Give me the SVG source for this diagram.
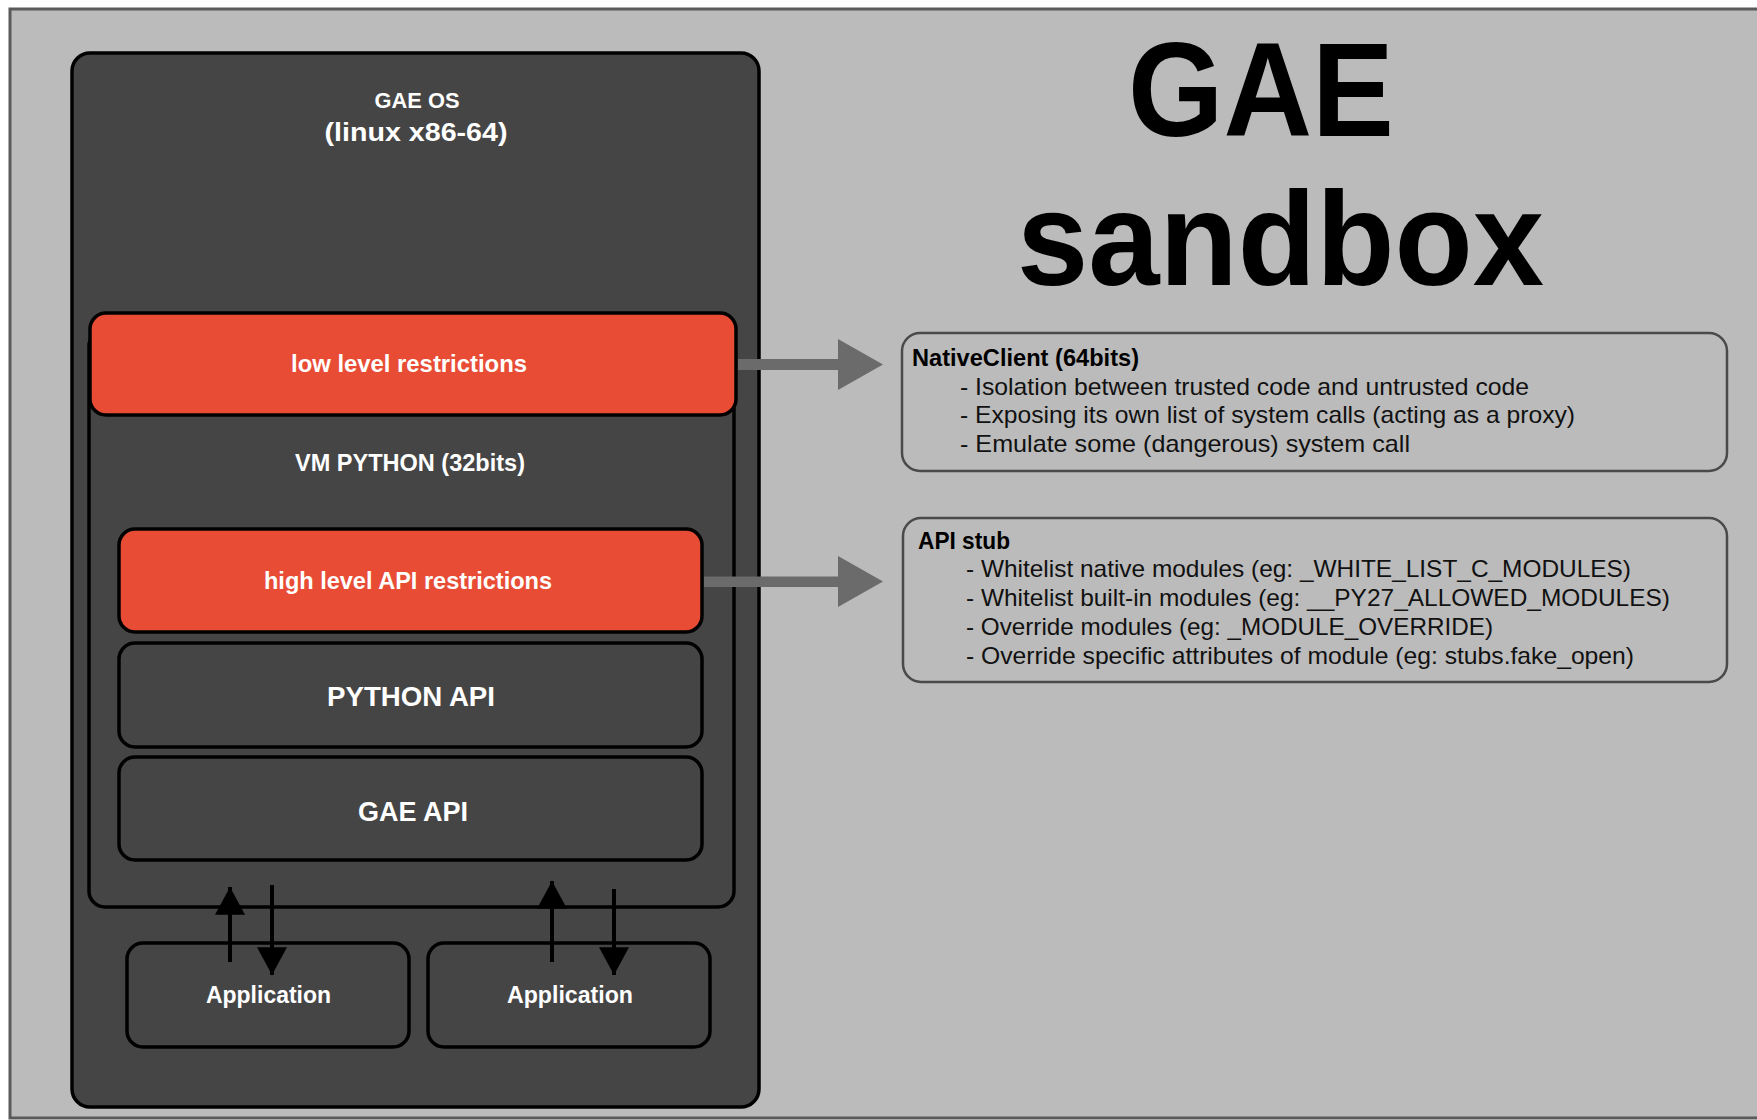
<svg xmlns="http://www.w3.org/2000/svg" width="1757" height="1120" viewBox="0 0 1757 1120">
<defs>
<style>
.box{fill:#454545;stroke:#000;stroke-width:3.5}
.red{fill:#e84c34;stroke:#000;stroke-width:3.5}
.info{fill:none;stroke:#4a4a4a;stroke-width:2.5}
.w{font-family:"Liberation Sans",Arial,sans-serif;font-weight:bold;fill:#fff;text-anchor:middle}
.t{font-family:"Liberation Sans",Arial,sans-serif;fill:#111;font-size:24px}
.tb{font-family:"Liberation Sans",Arial,sans-serif;fill:#000;font-size:24px;font-weight:bold}
.title{font-family:"Liberation Sans",Arial,sans-serif;font-weight:bold;fill:#000;font-size:134px}
.ga{fill:#6b6b6b}
.bk{stroke:#000;stroke-width:4;fill:none}
</style>
<marker id="ah" markerUnits="userSpaceOnUse" markerWidth="30" markerHeight="30" viewBox="0 0 26 28" refX="26" refY="14" orient="auto">
<path d="M0,0 L26,14 L0,28 Z" fill="#000"/>
</marker>
</defs>
<rect x="10" y="9" width="1760" height="1109" fill="#bbbbbb" stroke="#5a5a5a" stroke-width="3"/>

<g id="title">
<text class="title" x="1128" y="136" textLength="266" lengthAdjust="spacingAndGlyphs">GAE</text>
<text class="title" x="1017" y="285" textLength="527" lengthAdjust="spacingAndGlyphs">sandbox</text>
</g>

<g id="gae-os">
<rect class="box" x="72" y="53" width="687" height="1054" rx="18"/>
<text class="w" x="417" y="108" font-size="22" textLength="85" lengthAdjust="spacingAndGlyphs">GAE OS</text>
<text class="w" x="416" y="141" font-size="26" textLength="183" lengthAdjust="spacingAndGlyphs">(linux x86-64)</text>
</g>

<g id="vm-python">
<rect class="box" x="89" y="330" width="645" height="577" rx="16"/>
<text class="w" x="410" y="471" font-size="23.5" textLength="230" lengthAdjust="spacingAndGlyphs">VM PYTHON (32bits)</text>
</g>

<g id="low-level">
<rect class="red" x="90" y="313" width="646" height="102" rx="16"/>
<text class="w" x="409" y="372" font-size="24" textLength="236" lengthAdjust="spacingAndGlyphs">low level restrictions</text>
</g>

<g id="high-level">
<rect class="red" x="119" y="529" width="583" height="103" rx="16"/>
<text class="w" x="408" y="589" font-size="24" textLength="288" lengthAdjust="spacingAndGlyphs">high level API restrictions</text>
</g>

<g id="python-api">
<rect class="box" x="119" y="643" width="583" height="104" rx="16"/>
<text class="w" x="411" y="706" font-size="27" textLength="168" lengthAdjust="spacingAndGlyphs">PYTHON API</text>
</g>

<g id="gae-api">
<rect class="box" x="119" y="757" width="583" height="103" rx="16"/>
<text class="w" x="413" y="821" font-size="27" textLength="110" lengthAdjust="spacingAndGlyphs">GAE API</text>
</g>

<g id="app1">
<rect class="box" x="127" y="943" width="282" height="104" rx="16"/>
<text class="w" x="268.5" y="1003" font-size="23" textLength="125" lengthAdjust="spacingAndGlyphs">Application</text>
</g>

<g id="app2">
<rect class="box" x="428" y="943" width="282" height="104" rx="16"/>
<text class="w" x="570" y="1003" font-size="23" textLength="126" lengthAdjust="spacingAndGlyphs">Application</text>
</g>

<g id="nativeclient">
<rect class="info" x="902" y="333" width="825" height="138" rx="18"/>
<text class="tb" x="912" y="366" textLength="227" lengthAdjust="spacingAndGlyphs">NativeClient (64bits)</text>
<text class="t" x="960" y="395" textLength="569" lengthAdjust="spacingAndGlyphs">- Isolation between trusted code and untrusted code</text>
<text class="t" x="960" y="423" textLength="615" lengthAdjust="spacingAndGlyphs">- Exposing its own list of system calls (acting as a proxy)</text>
<text class="t" x="960" y="452" textLength="450" lengthAdjust="spacingAndGlyphs">- Emulate some (dangerous) system call</text>
</g>

<g id="api-stub">
<rect class="info" x="903" y="518" width="824" height="164" rx="18"/>
<text class="tb" x="918" y="549" textLength="92" lengthAdjust="spacingAndGlyphs">API stub</text>
<text class="t" x="966" y="577" textLength="665" lengthAdjust="spacingAndGlyphs">- Whitelist native modules (eg: _WHITE_LIST_C_MODULES)</text>
<text class="t" x="966" y="606" textLength="704" lengthAdjust="spacingAndGlyphs">- Whitelist built-in modules (eg: __PY27_ALLOWED_MODULES)</text>
<text class="t" x="966" y="635" textLength="527" lengthAdjust="spacingAndGlyphs">- Override modules (eg: _MODULE_OVERRIDE)</text>
<text class="t" x="966" y="664" textLength="668" lengthAdjust="spacingAndGlyphs">- Override specific attributes of module (eg: stubs.fake_open)</text>
</g>

<g id="connectors">
<path class="ga" d="M738,359 H838 V339 L883,364.5 L838,390 V370 H738 Z"/>
<path class="ga" d="M704,576.5 H838 V556 L883,581.5 L838,607 V587 H704 Z"/>
<line class="bk" x1="230" y1="962" x2="230" y2="887" marker-end="url(#ah)"/>
<line class="bk" x1="272" y1="885" x2="272" y2="975" marker-end="url(#ah)"/>
<line class="bk" x1="552" y1="962" x2="552" y2="881" marker-end="url(#ah)"/>
<line class="bk" x1="614" y1="889" x2="614" y2="975" marker-end="url(#ah)"/>
</g>
</svg>
